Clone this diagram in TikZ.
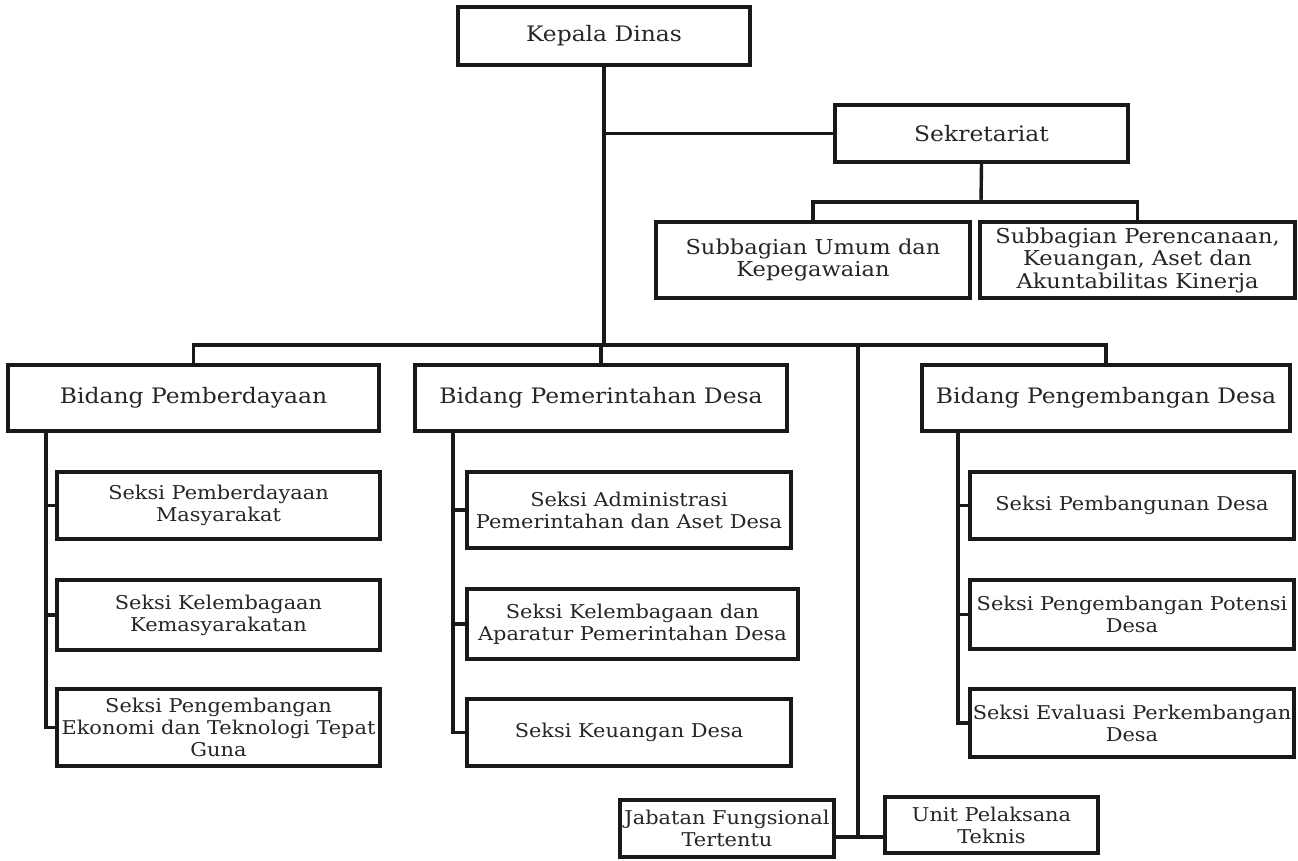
\documentclass[tikz,border=0pt]{standalone}
\usepackage{fontspec}
\setmainfont{DejaVu Serif}[FakeStretch=1.1]
\begin{document}
\begin{tikzpicture}[x=1pt,y=-1pt,
  box/.style={draw=black!90, line width=3.6pt, fill=white, inner sep=0pt, align=center, text=black!85},
  big/.style={box, font=\fontsize{21.3}{25}\selectfont},
  mid/.style={box, font=\fontsize{20.5}{22.5}\selectfont},
  small/.style={box, font=\fontsize{19}{22}\selectfont},
  conn/.style={draw=black!90, line width=3.4pt}]
\useasboundingbox (0,0) rectangle (1298,860);
\fill[white] (0,0) rectangle (1298,860);

% nodes
\node[big, minimum width=292pt, minimum height=58pt] (kd) at (604,36) {Kepala Dinas};
\node[big, minimum width=293pt, minimum height=57pt] (sek) at (981.5,133.5) {Sekretariat};
\node[mid, minimum width=314pt, minimum height=76pt] (sbu) at (813,260) {Subbagian Umum dan\\Kepegawaian};
\node[mid, minimum width=315pt, minimum height=76pt] (sbp) at (1137.5,260) {Subbagian Perencanaan,\\Keuangan, Aset dan\\Akuntabilitas Kinerja};

\node[big, minimum width=371pt, minimum height=66pt] (bp1) at (193.5,398) {Bidang Pemberdayaan};
\node[big, minimum width=372pt, minimum height=66pt] (bp2) at (601,398) {Bidang Pemerintahan Desa};
\node[big, minimum width=368pt, minimum height=66pt] (bp3) at (1106,398) {Bidang Pengembangan Desa};

\node[small, minimum width=323pt, minimum height=67pt] (s11) at (218.5,505.5) {Seksi Pemberdayaan\\Masyarakat};
\node[small, minimum width=323pt, minimum height=70pt] (s12) at (218.5,615) {Seksi Kelembagaan\\Kemasyarakatan};
\node[small, minimum width=323pt, minimum height=77pt] (s13) at (218.5,727.5) {Seksi Pengembangan\\Ekonomi dan Teknologi Tepat\\Guna};

\node[small, minimum width=324pt, minimum height=76pt] (s21) at (629,510) {Seksi Administrasi\\Pemerintahan dan Aset Desa};
\node[small, minimum width=331pt, minimum height=70pt] (s22) at (632.5,624) {Seksi Kelembagaan dan\\Aparatur Pemerintahan Desa};
\node[small, minimum width=324pt, minimum height=67pt] (s23) at (629,732.5) {Seksi Keuangan Desa};

\node[small, minimum width=324pt, minimum height=67pt] (s31) at (1132,505.5) {Seksi Pembangunan Desa};
\node[small, minimum width=324pt, minimum height=69pt] (s32) at (1132,614.5) {Seksi Pengembangan Potensi\\Desa};
\node[small, minimum width=324pt, minimum height=68pt] (s33) at (1132,723) {Seksi Evaluasi Perkembangan\\Desa};

\node[small, minimum width=214pt, minimum height=57pt] (jf) at (727,828.5) {Jabatan Fungsional\\Tertentu};
\node[small, minimum width=213pt, minimum height=56pt] (upt) at (991.5,825) {Unit Pelaksana\\Teknis};

% coordinates
\coordinate (mb) at (604,345);
\coordinate (fn) at (858,345);
\coordinate (fnb) at (858,837);
\coordinate (sb) at (981,202);
\coordinate (c1) at (46,431);
\coordinate (c2) at (453,431);
\coordinate (c3) at (958,431);

% connectors
\path[conn] (kd.south) -- (mb);
\path[conn] (kd.south) |- (sek.west);
\path[conn] (bp1.north) |- (mb) -| (bp3.north);
\path[conn] (mb -| bp2.north) -- (bp2.north);
\path[conn] (fn) -- (fnb);
\path[conn] (fnb -| jf.east) -- (fnb -| upt.west);
\path[conn] (sek.south) -- (sb);
\path[conn] (sbu.north) |- (sb) -| (sbp.north);

\path[conn] (c1) |- (s13.west);
\path[conn] (c1 |- s11.west) -- (s11.west);
\path[conn] (c1 |- s12.west) -- (s12.west);

\path[conn] (c2) |- (s23.west);
\path[conn] (c2 |- s21.west) -- (s21.west);
\path[conn] (c2 |- s22.west) -- (s22.west);

\path[conn] (c3) |- (s33.west);
\path[conn] (c3 |- s31.west) -- (s31.west);
\path[conn] (c3 |- s32.west) -- (s32.west);
\end{tikzpicture}
\end{document}
